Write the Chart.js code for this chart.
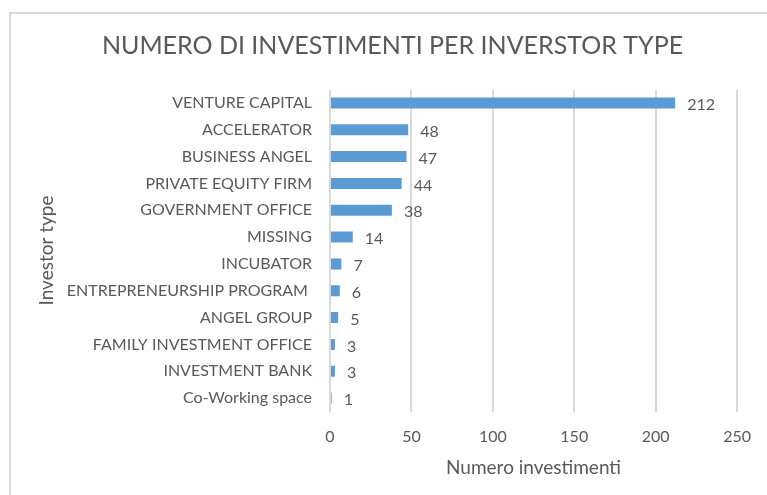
<!DOCTYPE html>
<html lang="it">
<head>
  <meta charset="UTF-8" />
  <title>Numero di investimenti per investor type</title>
  <script src="https://cdn.jsdelivr.net/npm/chart.js"></script>
  <style>
    body { margin: 0; background: #fff; }
    .wrap { position: relative; width: 767px; height: 495px; overflow: hidden; }
    .cornice { position: absolute; left: 9px; top: 12px; width: 800px; height: 600px;
      border-left: 2px solid #d9d9d9; border-top: 2px solid #d9d9d9; }
    canvas { position: absolute; left: 0; top: 0; }
  </style>
</head>
<body>
  <div class="wrap">
    <div class="cornice"></div>
    <canvas id="grafico" width="767" height="495"></canvas>
  </div>

  <script>
    // dati
    const tipi = [
      'VENTURE CAPITAL', 'ACCELERATOR', 'BUSINESS ANGEL', 'PRIVATE EQUITY FIRM',
      'GOVERNMENT OFFICE', 'MISSING', 'INCUBATOR', 'ENTREPRENEURSHIP PROGRAM ',
      'ANGEL GROUP', 'FAMILY INVESTMENT OFFICE', 'INVESTMENT BANK', 'Co-Working space'
    ];
    const investimenti = [212, 48, 47, 44, 38, 14, 7, 6, 5, 3, 3, 1];
    const tickX = [0, 50, 100, 150, 200, 250];

    const grigio = '#595959';
    const font = 'Lato, "Open Sans", sans-serif';

    // etichette dei valori alla fine delle barre
    const etichette = {
      id: 'etichette',
      afterDatasetsDraw(chart) {
        const ctx = chart.ctx;
        const meta = chart.getDatasetMeta(0);
        ctx.save();
        ctx.font = '16px ' + font;
        ctx.fillStyle = grigio;
        ctx.textAlign = 'left';
        ctx.textBaseline = 'middle';
        meta.data.forEach((bar, i) => {
          ctx.fillText(String(investimenti[i]), bar.x + 12, bar.y + 2);
        });
        ctx.restore();
      }
    };

    const ctx = document.getElementById('grafico').getContext('2d');
    new Chart(ctx, {
      type: 'bar',
      data: {
        labels: tipi,
        datasets: [{
          data: investimenti,
          backgroundColor: '#5b9bd5',
          categoryPercentage: 1,
          barPercentage: 0.41
        }]
      },
      plugins: [etichette],
      options: {
        indexAxis: 'y',
        responsive: false,
        animation: false,
        // sinistra piu larga per centrare il titolo come nell'originale
        layout: { padding: { left: 45, right: 27, top: 0, bottom: 12 } },
        plugins: {
          legend: { display: false },
          tooltip: { enabled: false },
          title: {
            display: true,
            text: 'NUMERO DI INVESTIMENTI PER INVERSTOR TYPE',
            color: grigio,
            font: { family: font, size: 25, weight: 'normal' },
            padding: { top: 30.5, bottom: 29 }
          }
        },
        scales: {
          x: {
            min: 0,
            max: 250,
            afterBuildTicks: (scale) => { scale.ticks = tickX.map(v => ({ value: v })); },
            afterFit: (scale) => { scale.height = 71.5; },
            grid: { color: '#d9d9d9', lineWidth: 2, drawTicks: false },
            border: { display: false },
            ticks: { color: grigio, padding: 16, font: { family: font, size: 16 } },
            title: {
              display: true,
              text: 'Numero investimenti',
              color: grigio,
              font: { family: font, size: 19 },
              padding: { top: 0, bottom: 3.6 }
            }
          },
          y: {
            afterFit: (scale) => { scale.width = 285; },
            grid: { display: false, drawTicks: false },
            border: { display: false },
            ticks: { color: grigio, padding: 18, autoSkip: false, font: { family: font, size: 16 } },
            title: {
              display: true,
              text: 'Investor type',
              color: grigio,
              font: { family: font, size: 19 },
              padding: { top: -9.4, bottom: 0 }
            }
          }
        }
      }
    });
  </script>
</body>
</html>
